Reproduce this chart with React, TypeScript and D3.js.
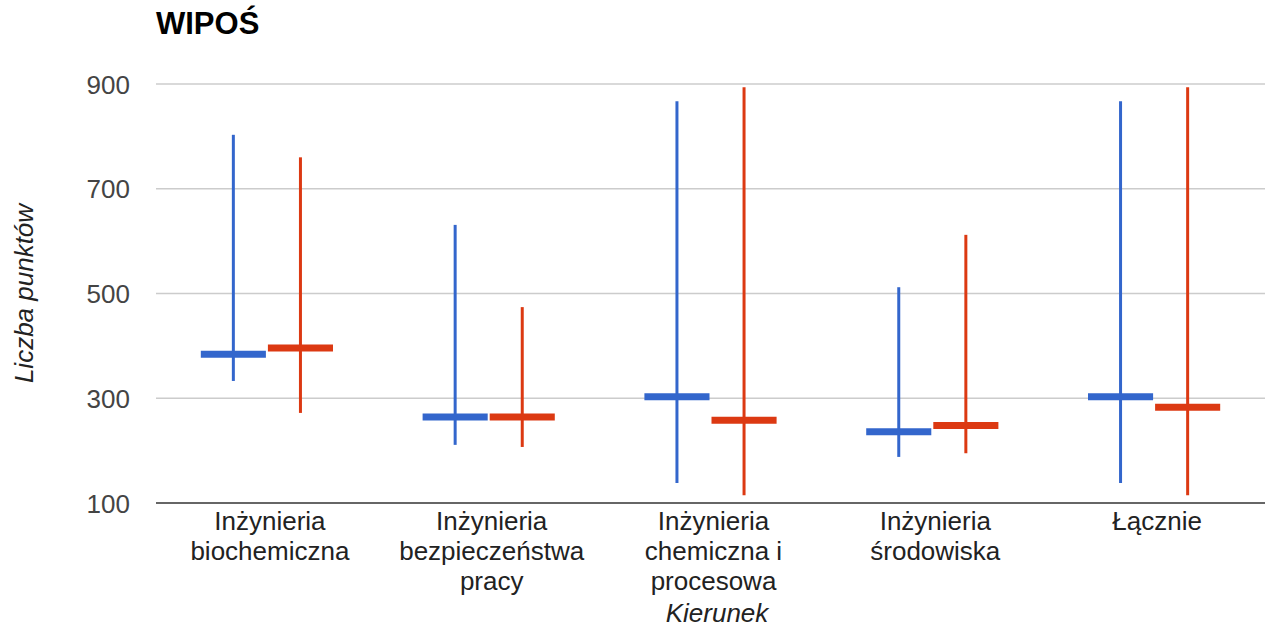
import React from "react";
import * as d3 from "d3";

const categories: string[][] = [
  ["Inżynieria", "biochemiczna"],
  ["Inżynieria", "bezpieczeństwa", "pracy"],
  ["Inżynieria", "chemiczna i", "procesowa"],
  ["Inżynieria", "środowiska"],
  ["Łącznie"],
];
const blueMin = [333, 211, 138, 188, 138];
const blueMax = [803, 631, 867, 512, 867];
const blueMean = [384, 264, 303, 236, 303];
const redMin = [272, 207, 115, 195, 115];
const redMax = [760, 474, 894, 612, 894];
const redMean = [396, 264, 258, 248, 283];
const yTicks = [100, 300, 500, 700, 900];

const W = 1265;
const H = 628;
const left = 156;
const right = 1265;
const top = 84;
const bottom = 503;

export default function App() {
  const x = d3.scaleBand<number>().domain(d3.range(categories.length)).range([left, right]).paddingInner(0).paddingOuter(0);
  const inner = d3.scaleBand<number>().domain([0, 1]).range([0, x.bandwidth() * 0.605]).padding(0);
  const y = d3.scaleLinear().domain([100, 900]).range([bottom, top]);
  const groupOffset = (x.bandwidth() - x.bandwidth() * 0.605) / 2;
  const series = [
    { min: blueMin, max: blueMax, mean: blueMean, color: "#3366cc" },
    { min: redMin, max: redMax, mean: redMean, color: "#dc3912" },
  ];
  const font = "'Liberation Sans', Arial, sans-serif";
  return (
    <svg width={W} height={H} style={{ position: "absolute", left: 0, top: 0 }} fontFamily={font}>
      <rect width={W} height={H} fill="#fff" />
      <text x={156} y={34} fontSize={31} fontWeight="bold" fill="#000">WIPOŚ</text>
      {yTicks.map((t) => (
        <g key={t}>
          {t !== 100 && <line x1={left} x2={right} y1={y(t)} y2={y(t)} stroke="#cccccc" strokeWidth={1.5} />}
          <text x={130} y={y(t) + 9.5} textAnchor="end" fontSize={26} fill="#444">{t}</text>
        </g>
      ))}
      <text transform={`translate(33,${(top + bottom) / 2}) rotate(-90)`} textAnchor="middle" fontSize={26} fontStyle="italic" fill="#222">Liczba punktów</text>
      {series.map((s, si) =>
        categories.map((_, i) => {
          const x0 = (x(i) as number) + groupOffset + (inner(si) as number);
          const bw = inner.bandwidth();
          const cx = x0 + bw / 2;
          return (
            <g key={`${si}-${i}`}>
              <line x1={cx} x2={cx} y1={y(s.max[i])} y2={y(s.min[i])} stroke={s.color} strokeWidth={3} />
              <line x1={x0 + 1} x2={x0 + bw - 1} y1={y(s.mean[i])} y2={y(s.mean[i])} stroke={s.color} strokeWidth={7} />
            </g>
          );
        })
      )}
      <line x1={left} x2={right} y1={y(100)} y2={y(100)} stroke="#333" strokeWidth={1.5} />
      {categories.map((lines, i) => (
        <text key={i} x={(x(i) as number) + x.bandwidth() / 2 + 3} y={530} textAnchor="middle" fontSize={26} fill="#222">
          {lines.map((l, j) => (
            <tspan key={j} x={(x(i) as number) + x.bandwidth() / 2 + 3} dy={j === 0 ? 0 : 30}>{l}</tspan>
          ))}
        </text>
      ))}
      <text x={717} y={622} textAnchor="middle" fontSize={26} fontStyle="italic" fill="#222">Kierunek</text>
    </svg>
  );
}
